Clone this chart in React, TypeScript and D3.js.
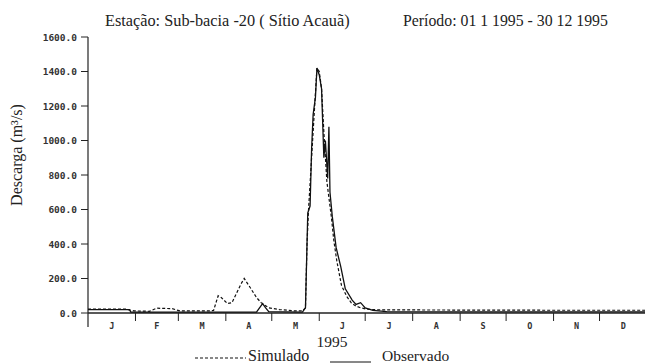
import React from 'react';
import * as d3 from 'd3';

// month initials and the day each month starts (1995)
const months = ['J', 'F', 'M', 'A', 'M', 'J', 'J', 'A', 'S', 'O', 'N', 'D'];
const monthStarts = [0, 31, 59, 90, 120, 151, 181, 212, 243, 273, 304, 334, 365];
const yTicks = [0, 200, 400, 600, 800, 1000, 1200, 1400, 1600];

// Simulado (dashed)
const simDays = [0, 25, 30, 40, 45, 55, 60, 80, 82, 85, 87, 91, 94, 100, 102, 105, 110, 113, 118, 125, 135, 140, 142, 143, 144, 146, 148, 149.5, 151, 152.5, 154, 156, 159, 160.5, 162.5, 165.5, 169, 172, 175, 178, 182, 190, 250, 300, 365];
const simFlow = [22, 22, 12, 10, 28, 25, 12, 12, 15, 100, 90, 55, 60, 170, 200, 160, 90, 60, 30, 20, 12, 12, 30, 400, 600, 900, 1200, 1420, 1400, 1300, 1050, 760, 550, 420, 300, 160, 95, 58, 40, 30, 22, 18, 17, 16, 16];

// Observado (solid)
const obsDays = [0, 27, 28, 60, 110, 112, 114, 116, 118, 140, 142, 143.5, 145, 146, 147, 148.5, 149.5, 151, 152.5, 154, 155, 156.5, 157.3, 158, 159.5, 162, 165, 168, 172.5, 175, 178, 181, 186, 195, 280, 365];
const obsFlow = [20, 20, 5, 5, 5, 30, 55, 30, 8, 5, 30, 580, 620, 950, 1150, 1250, 1420, 1380, 1300, 900, 1000, 780, 1080, 700, 560, 380, 270, 140, 75, 50, 60, 30, 15, 8, 7, 6];

const W = 645;
const H = 364;

export default function App() {
  const x = d3.scaleLinear().domain([0, 365]).range([88, 647]);
  const y = d3.scaleLinear().domain([0, 1600]).range([313, 37]);

  const line = d3.line<[number, number]>().x(d => x(d[0])).y(d => y(d[1]));
  const simPath = line(simDays.map((d, i) => [d, simFlow[i]]) as [number, number][]) || '';
  const obsPath = line(obsDays.map((d, i) => [d, obsFlow[i]]) as [number, number][]) || '';

  const tick = "'DejaVu Sans Mono', monospace";
  const serif = "'Liberation Serif', 'Times New Roman', Times, serif";

  return (
    <svg width={W} height={H} style={{ position: 'absolute', left: 0, top: 0, background: '#fff' }}>
      {/* titles */}
      <text x={105} y={26} fontSize={16.3} fill="#222" fontFamily={serif}>Estação: Sub-bacia -20 ( Sítio Acauã)</text>
      <text x={403} y={26} fontSize={15.8} fill="#222" fontFamily={serif}>Período: 01 1 1995 - 30 12 1995</text>

      {/* y axis */}
      <line x1={x(0)} x2={x(0)} y1={y(1600)} y2={327} stroke="#222" strokeWidth={1.2} />
      {yTicks.map(t => (
        <g key={t}>
          <line x1={x(0) - 7} x2={x(0)} y1={y(t)} y2={y(t)} stroke="#222" strokeWidth={1} />
          <text x={77} y={y(t) + 3.5} textAnchor="end" fill="#333" fontFamily={tick} fontSize={9.5} fontWeight={700}>{d3.format('.1f')(t)}</text>
        </g>
      ))}
      <text transform={`translate(22,155) rotate(-90)`} textAnchor="middle" fontSize={16} fill="#222" fontFamily={serif}>
        Descarga (m³/s)
      </text>

      {/* x axis */}
      <line x1={x(0)} x2={W} y1={y(0)} y2={y(0)} stroke="#222" strokeWidth={1.4} />
      {monthStarts.slice(1, 12).map(d => (
        <line key={d} x1={x(d)} x2={x(d)} y1={y(0)} y2={y(0) + 8} stroke="#222" strokeWidth={1} />
      ))}
      {months.map((m, i) => (
        <text key={i} x={x((monthStarts[i] + monthStarts[i + 1]) / 2)} y={329} textAnchor="middle" fill="#333" fontFamily={tick} fontSize={8.5} fontWeight={700}>{m}</text>
      ))}
      <text x={332} y={347} textAnchor="middle" fontSize={15.5} fill="#222" fontFamily={serif}>1995</text>

      {/* series */}
      <path d={simPath} fill="none" stroke="#111" strokeWidth={1.2} strokeDasharray="3,2" />
      <path d={obsPath} fill="none" stroke="#111" strokeWidth={1.3} />

      {/* legend */}
      <line x1={195} x2={246} y1={358} y2={358} stroke="#111" strokeWidth={1} strokeDasharray="3,2" />
      <text x={248} y={361} fontSize={16} fill="#222" fontFamily={serif}>Simulado</text>
      <line x1={330} x2={371} y1={362} y2={362} stroke="#111" strokeWidth={1} />
      <text x={382} y={361} fontSize={15.5} fill="#222" fontFamily={serif}>Observado</text>
    </svg>
  );
}
